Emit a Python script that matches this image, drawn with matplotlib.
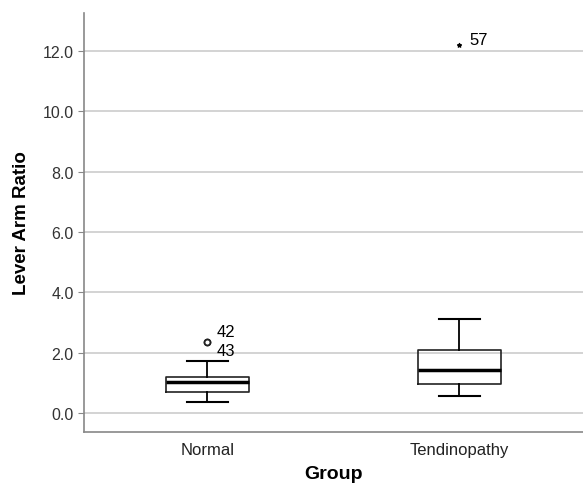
import matplotlib
matplotlib.use("Agg")
import matplotlib.pyplot as plt

plt.rcParams['font.family'] = ['Liberation Sans', 'DejaVu Sans']

groups = ["Normal", "Tendinopathy"]
q1 = [0.70, 0.96]
med = [1.03, 1.43]
q3 = [1.19, 2.09]
whislo = [0.36, 0.56]
whishi = [1.72, 3.12]

outlier_vals = [2.35, 2.35]
outlier_ids = ["42", "43"]
extreme_vals = [12.2]
extreme_ids = ["57"]

fig = plt.figure(figsize=(5.83, 4.89), dpi=100)
ax = fig.add_axes([0.144, 0.1145, 0.856, 0.857])

stats = []
for i in range(len(groups)):
    stats.append(dict(label=groups[i], q1=q1[i], med=med[i], q3=q3[i],
                      whislo=whislo[i], whishi=whishi[i], fliers=[]))

ax.bxp(stats, positions=[1, 2], widths=0.33, showfliers=False,
       boxprops=dict(color="#222222", linewidth=1.2),
       medianprops=dict(color="black", linewidth=2.5),
       whiskerprops=dict(color="black", linewidth=1.3),
       capprops=dict(color="black", linewidth=1.5),
       capwidths=0.16)

# outliers (normal group)
ax.scatter([1] * len(outlier_vals), outlier_vals, s=18, facecolors="white",
           edgecolors="#222222", linewidths=1.3, zorder=4)
ax.text(1.035, outlier_vals[0] + 0.36, outlier_ids[0], fontsize=12, va="center")
ax.text(1.035, outlier_vals[1] - 0.27, outlier_ids[1], fontsize=12, va="center")

# extreme (tendinopathy group)
ax.scatter([2] * len(extreme_vals), extreme_vals, s=8, marker="*", color="black", zorder=4)
ax.text(2.04, extreme_vals[0] + 0.17, extreme_ids[0], fontsize=12, va="center")

ax.set_xlim(0.51, 2.49)
ax.set_ylim(-0.63, 13.26)
ax.set_yticks([0, 2, 4, 6, 8, 10, 12])
ax.set_yticklabels([f"{v:.1f}" for v in [0, 2, 4, 6, 8, 10, 12]])
ax.set_xticks([1, 2])
ax.set_xticklabels(groups)
ax.yaxis.grid(True, color="#cccccc", linewidth=1.2)
ax.set_axisbelow(True)

for s in ["top", "right"]:
    ax.spines[s].set_visible(False)
for s in ["left", "bottom"]:
    ax.spines[s].set_color("#888888")
    ax.spines[s].set_linewidth(1.2)
ax.tick_params(axis="y", colors="#888888", labelcolor="#333333", labelsize=11.5, length=4)
ax.tick_params(axis="x", length=0, labelcolor="#222222", labelsize=12, pad=7)

ax.set_ylabel("Lever Arm Ratio", fontsize=13.5, fontweight="bold", labelpad=9)
ax.set_xlabel("Group", fontsize=14, fontweight="bold", labelpad=6)

fig.savefig("out.png", dpi=100)
